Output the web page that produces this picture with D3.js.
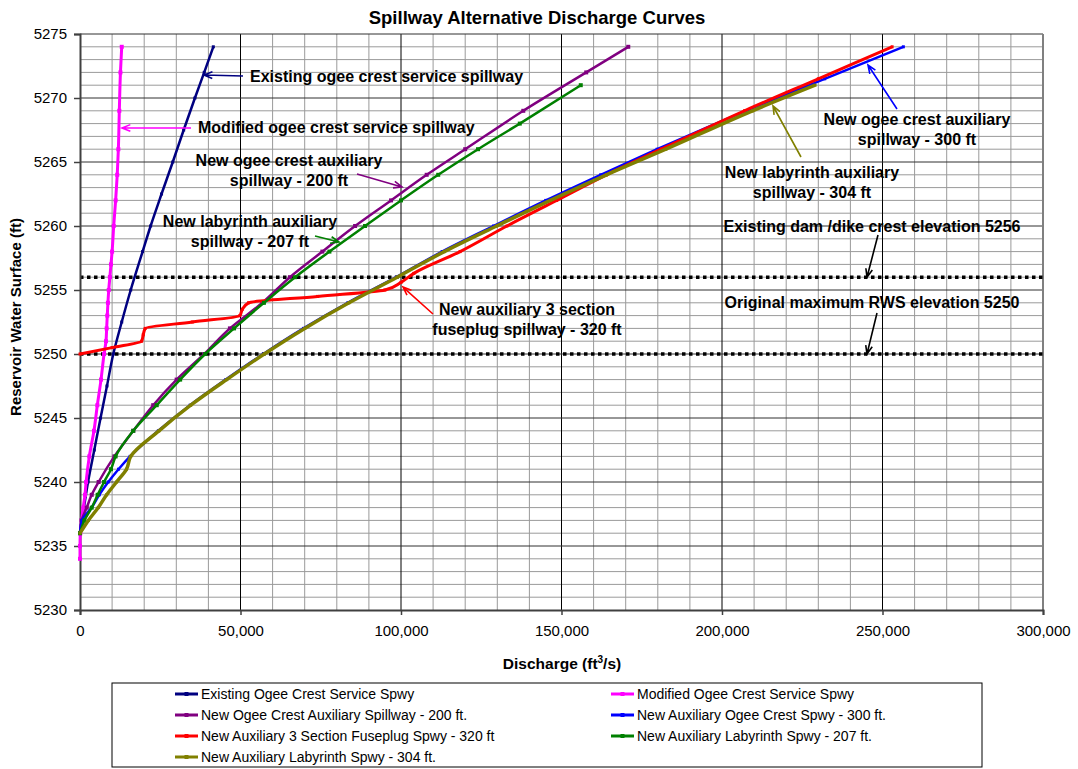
<!DOCTYPE html>
<html>
<head>
<meta charset="utf-8">
<script src="https://cdn.jsdelivr.net/npm/d3@7"></script>
<style>
  html, body { margin: 0; padding: 0; background: #fff; }
  svg { display: block; font-family: "Liberation Sans", Arial, sans-serif; }
</style>
</head>
<body>
<svg id="chart" width="1078" height="769"></svg>
<script>
// Rating curves: [discharge (cfs), reservoir water surface (ft)]
const existingOgee = [[0,5236],[500,5237],[1200,5238],[2500,5240],[4450,5242.5],[6400,5245],[8400,5247.5],[10370,5250],[13000,5252.5],[15800,5255],[19500,5258],[22000,5260],[25400,5262.5],[28900,5265],[32300,5267.5],[35800,5270],[38700,5272],[41530,5274]];
const modifiedOgee = [[0,5234],[0,5235],[100,5236],[500,5237],[1000,5238],[1550,5239],[1900,5240],[2900,5242],[4350,5244],[5400,5246],[6550,5248],[7500,5250],[8100,5251],[8300,5252],[8500,5253],[8700,5254],[8950,5255],[9300,5256],[9650,5257],[10000,5258],[10500,5260],[11100,5262],[11600,5264],[11950,5266],[12250,5269],[12600,5272],[13000,5274]];
const newOgee200 = [[0,5236],[500,5237],[2100,5238],[3650,5239],[5800,5240],[10700,5242],[16600,5244],[22800,5246],[30100,5248],[38700,5250],[46700,5252],[56800,5254],[65400,5256],[75500,5258],[85700,5260],[96900,5262],[108000,5264],[120000,5266],[138100,5269],[157700,5272],[170800,5274]];
const newOgee300 = [[0,5236],[600,5237],[3600,5238],[6000,5239],[8800,5240],[12000,5241],[15600,5242],[24400,5244],[34300,5246],[45400,5248],[57100,5250],[69600,5252],[83400,5254],[98500,5256],[112800,5258],[128800,5260],[145100,5262],[162200,5264],[179800,5266],[207500,5269],[232000,5271.5],[256500,5274]];
const fuseplug320 = [[0,5250],[10000,5250.5],[19200,5251],[19700,5251.5],[20300,5252],[35000,5252.5],[49800,5253],[50600,5253.5],[52500,5254],[74000,5254.5],[95000,5255],[100000,5255.6],[104000,5256.3],[118400,5258],[133000,5260],[148500,5262],[164000,5264],[181000,5266],[207000,5269],[230000,5271.5],[253000,5274]];
const labyrinth207 = [[0,5236],[1350,5237],[3650,5238],[5500,5239],[7500,5240],[9650,5241],[11100,5242],[16600,5244],[23900,5246],[31200,5248],[39000,5250],[48000,5252],[57300,5254],[67000,5256],[77700,5258],[88800,5260],[100000,5262],[111600,5264],[124000,5266],[137000,5268],[156000,5271]];
const labyrinth304 = [[0,5236],[2600,5237],[5700,5238],[8300,5239],[11400,5240],[14500,5241],[15800,5242],[24600,5244],[34500,5246],[45700,5248],[57400,5250],[70000,5252],[83800,5254],[98800,5256],[113500,5258],[129800,5260],[146500,5262],[164000,5264],[182500,5266],[209500,5269],[229000,5271]];

const seriesNames = ["Existing Ogee Crest Service Spwy","Modified Ogee Crest Service Spwy","New Ogee Crest Auxiliary Spillway - 200 ft.","New Auxiliary Ogee Crest Spwy - 300 ft.","New Auxiliary 3 Section Fuseplug Spwy - 320 ft","New Auxiliary Labyrinth Spwy - 207 ft.","New Auxiliary Labyrinth Spwy - 304 ft."];
const seriesValues = [existingOgee, modifiedOgee, newOgee200, newOgee300, fuseplug320, labyrinth207, labyrinth304];
const seriesColors = ["#000080","#ff00ff","#800080","#0000ff","#ff0000","#008000","#808000"];
const seriesWidths = [2.5, 3, 2.5, 2.5, 3, 2.5, 3.5];
const markerSizes = [3, 4, 4, 3, 3, 4, 3];

// Reference elevations (dotted lines)
const referenceElevations = [5256, 5250];

// Axis ticks
const xTicks = [0, 50000, 100000, 150000, 200000, 250000, 300000];
const yTicks = [5230, 5235, 5240, 5245, 5250, 5255, 5260, 5265, 5270, 5275];

// Callout labels: text lines, where the text sits (px), and the curve point the arrow touches (data)
const callouts = [
  {lines:["Existing ogee crest service spillway"], anchor:"start", tx:250, ty:76, from:[243,76], to:[38630,5271.8], color:"#000080"},
  {lines:["Modified ogee crest service spillway"], anchor:"start", tx:198, ty:127, from:[191,128], to:[13080,5267.66], color:"#ff00ff"},
  {lines:["New ogee crest auxiliary","spillway - 200 ft"], anchor:"middle", tx:289, ty:160, from:[357,174], to:[100300,5263.05], color:"#800080"},
  {lines:["New labyrinth auxiliary","spillway - 207 ft"], anchor:"middle", tx:250, ty:221, from:[315,236], to:[80680,5258.75], color:"#008000"},
  {lines:["New auxiliary 3 section","fuseplug spillway - 320 ft"], anchor:"middle", tx:527, ty:309, from:[433,314], to:[100620,5255.23], color:"#ff0000"},
  {lines:["New ogee crest auxiliary","spillway - 300 ft"], anchor:"middle", tx:917, ty:119, from:[897,109], to:[245480,5272.58], color:"#0000ff"},
  {lines:["New labyrinth auxiliary","spillway - 304 ft"], anchor:"middle", tx:812, ty:172, from:[801,157], to:[215890,5269.375], color:"#808000"},
  {lines:["Existing dam /dike crest elevation 5256"], anchor:"middle", tx:872, ty:226, from:[878,235], to:[245170,5256], color:"#000000"},
  {lines:["Original maximum RWS elevation 5250"], anchor:"middle", tx:872, ty:302, from:[877,313], to:[245170,5250], color:"#000000"}
];

const svg = d3.select("#chart");
const x = d3.scaleLinear().domain([0, 300000]).range([80, 1043]);
const y = d3.scaleLinear().domain([5230, 5275]).range([610, 34]);

// Gridlines
const grid = svg.append("g");
grid.selectAll(".vminor").data(d3.range(10000, 300000, 10000).filter(v => v % 50000 !== 0))
  .join("line").attr("x1", d => x(d)).attr("x2", d => x(d)).attr("y1", y(5230)).attr("y2", y(5275))
  .attr("stroke", "#9a9a9a").attr("stroke-width", 1);
grid.selectAll(".hminor").data(d3.range(5231, 5275, 1).filter(v => v % 5 !== 0))
  .join("line").attr("x1", x(0)).attr("x2", x(300000)).attr("y1", d => y(d)).attr("y2", d => y(d))
  .attr("stroke", "#9a9a9a").attr("stroke-width", 1);
grid.selectAll(".vmajor").data(xTicks.slice(1, -1))
  .join("line").attr("x1", d => x(d)).attr("x2", d => x(d)).attr("y1", y(5230)).attr("y2", y(5275))
  .attr("stroke", "#000").attr("stroke-width", 1);
grid.selectAll(".hmajor").data(yTicks.slice(1))
  .join("line").attr("x1", x(0)).attr("x2", x(300000)).attr("y1", d => y(d)).attr("y2", d => y(d))
  .attr("stroke", "#303030").attr("stroke-width", 1);
// Plot frame (right edge)
svg.append("line").attr("x1", x(300000)).attr("x2", x(300000)).attr("y1", y(5230)).attr("y2", y(5275))
  .attr("stroke", "#808080").attr("stroke-width", 2);

// Reference elevation lines
svg.append("g").selectAll("line").data(referenceElevations).join("line")
  .attr("x1", x(0)).attr("x2", x(300000)).attr("y1", d => y(d)).attr("y2", d => y(d))
  .attr("stroke", "#000").attr("stroke-width", 3.5).attr("stroke-dasharray", "3.5,3.5");

// Axes
const yAxis = svg.append("g").attr("transform", `translate(${x(0)},0)`)
  .call(d3.axisLeft(y).tickValues(yTicks).tickFormat(d3.format("d")).tickSize(6).tickPadding(7));
const xAxis = svg.append("g").attr("transform", `translate(0,${y(5230)})`)
  .call(d3.axisBottom(x).tickValues(xTicks).tickFormat(d3.format(",")).tickSize(5).tickPadding(10));
[yAxis, xAxis].forEach(g => {
  g.select(".domain").attr("stroke", "#404040").attr("stroke-width", 2);
  g.selectAll(".tick line").attr("stroke", "#404040").attr("stroke-width", 1.5);
  g.selectAll(".tick text").attr("fill", "#000").style("font-size", "15px").style("font-family", "'Liberation Sans', Arial, sans-serif");
});

// Series
const line = d3.line().x(d => x(d[0])).y(d => y(d[1])).curve(d3.curveMonotoneY);
const series = svg.append("g").selectAll("g").data(seriesValues).join("g");
series.append("path").attr("d", d => line(d)).attr("fill", "none")
  .attr("stroke", (d, i) => seriesColors[i]).attr("stroke-width", (d, i) => seriesWidths[i])
  .attr("stroke-linejoin", "round");
series.each(function(d, i) {
  const s = markerSizes[i];
  d3.select(this).selectAll("rect").data(d).join("rect")
    .attr("x", p => x(p[0]) - s / 2).attr("y", p => y(p[1]) - s / 2).attr("width", s).attr("height", s)
    .attr("fill", seriesColors[i]);
});

// Callouts with arrows
const ann = svg.append("g").style("font-weight", "bold").style("font-size", "16px");
callouts.forEach(c => {
  const t = ann.append("text").attr("x", c.tx).attr("y", c.ty).attr("text-anchor", c.anchor).attr("fill", "#000");
  c.lines.forEach((s, k) => t.append("tspan").attr("x", c.tx).attr("dy", k === 0 ? "0.35em" : "20px").text(s));
  const x1 = c.from[0], y1 = c.from[1], x2 = x(c.to[0]), y2 = y(c.to[1]);
  const ang = Math.atan2(y2 - y1, x2 - x1), L = 9, spread = 0.38;
  ann.append("path")
    .attr("d", `M${x1},${y1}L${x2},${y2}M${x2 - L * Math.cos(ang - spread)},${y2 - L * Math.sin(ang - spread)}L${x2},${y2}L${x2 - L * Math.cos(ang + spread)},${y2 - L * Math.sin(ang + spread)}`)
    .attr("fill", "none").attr("stroke", c.color).attr("stroke-width", 1.6);
});

// Titles
svg.append("text").attr("x", 537).attr("y", 24).attr("text-anchor", "middle")
  .style("font-weight", "bold").style("font-size", "18.5px").text("Spillway Alternative Discharge Curves");
svg.append("text").attr("transform", "translate(21,317) rotate(-90)").attr("text-anchor", "middle")
  .style("font-weight", "bold").style("font-size", "15px").text("Reservoir Water Surface (ft)");
const xt = svg.append("text").attr("x", 562).attr("y", 669).attr("text-anchor", "middle")
  .style("font-weight", "bold").style("font-size", "15.5px");
xt.append("tspan").text("Discharge (ft");
xt.append("tspan").attr("dy", "-6").style("font-size", "10px").text("3");
xt.append("tspan").attr("dy", "6").text("/s)");

// Legend
const legend = svg.append("g");
legend.append("rect").attr("x", 112).attr("y", 683).attr("width", 870).attr("height", 84)
  .attr("fill", "#fff").attr("stroke", "#000").attr("stroke-width", 1);
const legendPos = seriesNames.map((n, i) => ({ col: i % 2, row: Math.floor(i / 2) }));
const items = legend.selectAll("g.item").data(seriesNames).join("g")
  .attr("transform", (d, i) => `translate(${legendPos[i].col ? 611 : 175},${694 + legendPos[i].row * 21})`);
items.append("line").attr("x1", 0).attr("x2", 23).attr("y1", 0).attr("y2", 0)
  .attr("stroke", (d, i) => seriesColors[i]).attr("stroke-width", 3);
items.append("rect").attr("x", 9.5).attr("y", -2).attr("width", 4).attr("height", 4)
  .attr("fill", (d, i) => seriesColors[i]);
items.append("text").attr("x", 26).attr("dy", "0.35em").style("font-size", "14px").text(d => d);
</script>
</body>
</html>
